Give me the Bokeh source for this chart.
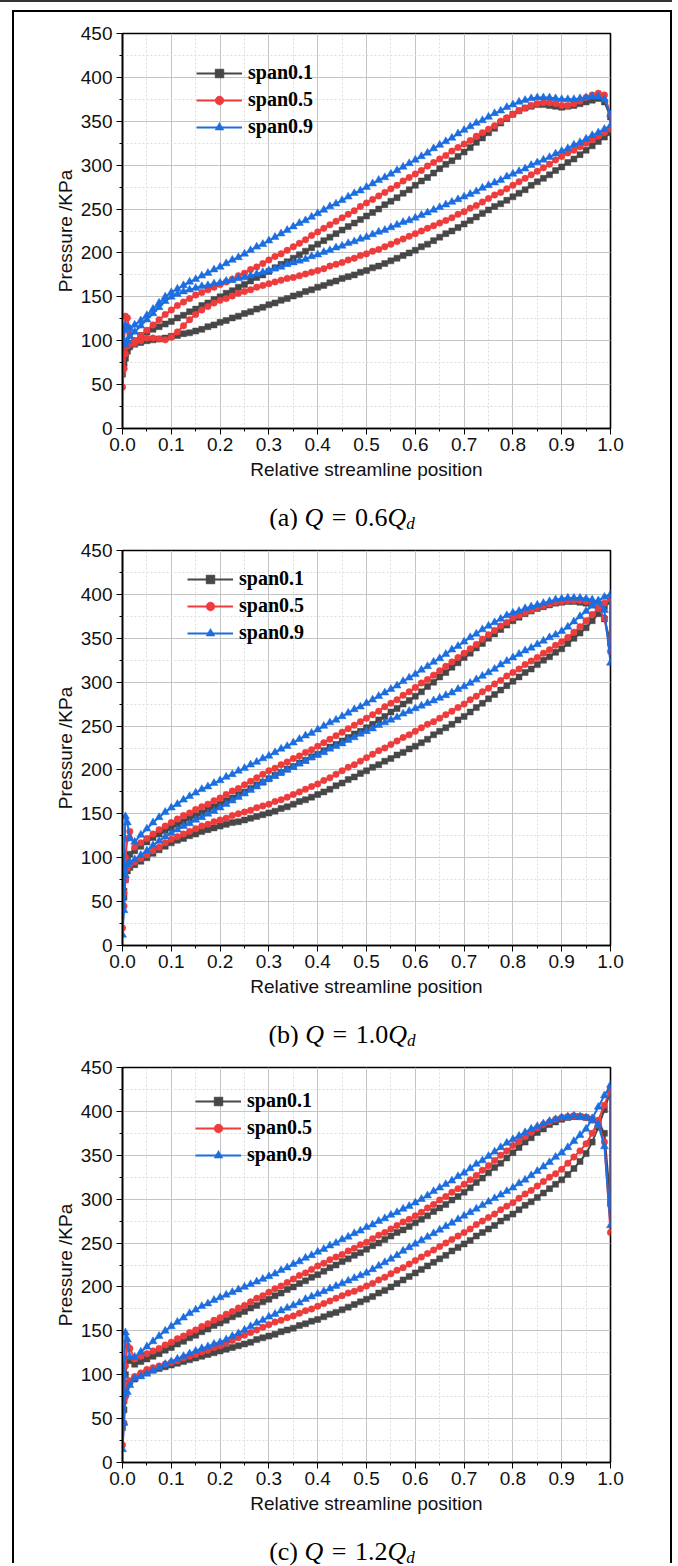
from bokeh.plotting import figure
from bokeh.models import (Range1d, SingleIntervalTicker, PrintfTickFormatter,
                          Legend, LegendItem, Div)
from bokeh.layouts import column
from bokeh.embed import file_html
from bokeh.resources import INLINE

# ---------------- data ----------------
SPANS = ["span0.1", "span0.5", "span0.9"]
X_LE = [0.003, 0.006, 0.01, 0.015]
X_MAIN = [0.025, 0.0375, 0.05, 0.0625, 0.075, 0.0875,
          0.1, 0.1125, 0.125, 0.1375, 0.15, 0.1625, 0.175, 0.1875,
          0.2, 0.2125, 0.225, 0.2375, 0.25, 0.2625, 0.275, 0.2875,
          0.3, 0.3125, 0.325, 0.3375, 0.35, 0.3625, 0.375, 0.3875,
          0.4, 0.4125, 0.425, 0.4375, 0.45, 0.4625, 0.475, 0.4875,
          0.5, 0.5125, 0.525, 0.5375, 0.55, 0.5625, 0.575, 0.5875,
          0.6, 0.6125, 0.625, 0.6375, 0.65, 0.6625, 0.675, 0.6875,
          0.7, 0.7125, 0.725, 0.7375, 0.75, 0.7625, 0.775, 0.7875,
          0.8, 0.8125, 0.825, 0.8375, 0.85, 0.8625, 0.875, 0.8875,
          0.9, 0.9125, 0.925, 0.9375, 0.95, 0.9625, 0.975, 0.9875,
          1.0]

# ----- (a) Q = 0.6Qd -----
A_STAG = [62, 47, 95]
A1_LE_PS = [75, 85, 92, 97]
A1_LE_SS = [70, 80, 88, 93]
A5_LE_PS = [95, 128, 126, 108]
A5_LE_SS = [68, 85, 94, 96]
A9_LE_PS = [112, 118, 115, 114]
A9_LE_SS = [100, 96, 100, 105]
A1_PS = [100, 106, 110, 113, 116, 119,
         122, 126, 129, 133, 136, 140, 143, 147,
         150, 154, 157, 161, 164, 168, 172, 175,
         179, 183, 187, 190, 194, 198, 202, 206,
         210, 214, 218, 222, 226, 230, 234, 238,
         242, 246, 250, 255, 259, 263, 268, 272,
         277, 282, 286, 291, 296, 301, 305, 310,
         315, 320, 326, 331, 337, 342, 348, 353,
         358, 362, 365, 367, 369, 369, 368, 367,
         366, 367, 368, 370, 372, 374, 376, 372,
         355]
A1_SS = [96, 98, 100, 101, 102, 103,
         105, 106, 108, 109, 111, 113, 116, 118,
         121, 123, 126, 128, 131, 133, 136, 138,
         141, 143, 146, 148, 151, 153, 156, 158,
         161, 163, 166, 168, 171, 173, 175, 178,
         180, 183, 185, 188, 191, 194, 197, 200,
         203, 207, 210, 214, 218, 222, 225, 229,
         233, 237, 241, 245, 249, 253, 256, 260,
         264, 268, 272, 277, 281, 285, 289, 294,
         298, 303, 307, 312, 317, 322, 327, 332,
         337]
A5_PS = [100, 106, 112, 118, 124, 130,
         135, 140, 144, 148, 152, 155, 158, 161,
         164, 167, 170, 174, 177, 181, 184, 188,
         192, 196, 199, 203, 207, 211, 215, 220,
         224, 228, 232, 236, 240, 244, 248, 253,
         257, 261, 265, 269, 273, 277, 282, 286,
         290, 294, 299, 303, 307, 311, 316, 320,
         324, 328, 333, 337, 341, 345, 350, 354,
         358, 362, 365, 368, 370, 371, 371, 370,
         368, 368, 370, 373, 377, 380, 382, 380,
         358]
A5_SS = [97, 100, 103, 103, 102, 101,
         104, 110, 117, 124, 130, 135, 139, 143,
         146, 148, 151, 154, 156, 158, 161, 163,
         165, 167, 169, 171, 172, 174, 176, 178,
         180, 182, 185, 187, 189, 192, 194, 197,
         199, 202, 204, 207, 210, 213, 216, 219,
         222, 225, 228, 231, 234, 237, 240, 244,
         247, 251, 254, 258, 262, 266, 269, 273,
         277, 281, 285, 289, 293, 297, 301, 306,
         310, 314, 317, 321, 325, 329, 333, 337,
         341]
A9_PS = [118, 123, 129, 136, 143, 150,
         155, 159, 163, 167, 170, 174, 177, 181,
         184, 188, 192, 195, 199, 203, 207, 210,
         214, 218, 222, 226, 230, 234, 237, 241,
         245, 249, 253, 256, 260, 264, 268, 271,
         275, 279, 283, 286, 290, 294, 298, 302,
         306, 310, 314, 319, 323, 327, 331, 336,
         340, 344, 348, 351, 355, 359, 362, 366,
         369, 372, 374, 376, 377, 377, 377, 376,
         375, 375, 375, 376, 377, 378, 378, 375,
         358]
A9_SS = [110, 117, 124, 131, 138, 145,
         150, 153, 156, 158, 160, 162, 163, 165,
         166, 168, 169, 171, 172, 174, 176, 178,
         180, 182, 184, 187, 189, 191, 193, 196,
         198, 201, 203, 206, 208, 211, 213, 216,
         218, 221, 224, 226, 229, 232, 235, 237,
         240, 243, 246, 249, 252, 255, 258, 261,
         264, 267, 270, 274, 277, 280, 283, 287,
         290, 293, 296, 300, 303, 306, 309, 313,
         316, 319, 323, 326, 330, 334, 337, 341,
         345]

# ----- (b) Q = 1.0Qd -----
B_STAG = [45, 20, 12]
B1_LE_PS = [62, 85, 98, 104]
B1_LE_SS = [55, 75, 85, 89]
B5_LE_PS = [60, 100, 122, 130]
B5_LE_SS = [45, 75, 88, 92]
B9_LE_PS = [90, 147, 140, 122]
B9_LE_SS = [40, 80, 92, 95]
B1_PS = [108, 113, 118, 123, 127, 131,
         134, 138, 141, 145, 148, 151, 155, 158,
         161, 165, 168, 172, 175, 179, 183, 186,
         190, 194, 197, 201, 204, 208, 211, 215,
         218, 222, 226, 229, 233, 237, 241, 244,
         248, 252, 257, 261, 266, 270, 275, 279,
         284, 289, 295, 300, 306, 311, 317, 322,
         328, 333, 339, 344, 350, 355, 360, 365,
         370, 374, 378, 381, 384, 386, 388, 390,
         391, 392, 392, 391, 390, 388, 384, 372,
         345]
B1_SS = [92, 96, 100, 105, 109, 113,
         117, 120, 122, 125, 127, 130, 132, 134,
         136, 138, 140, 141, 143, 145, 147, 149,
         151, 153, 156, 158, 161, 164, 166, 169,
         172, 175, 178, 182, 185, 189, 192, 196,
         199, 203, 206, 210, 213, 217, 220, 224,
         227, 231, 235, 240, 244, 248, 252, 257,
         261, 266, 271, 276, 281, 286, 291, 296,
         301, 306, 311, 315, 320, 325, 329, 334,
         338, 344, 350, 356, 362, 370, 378, 386,
         392]
B5_PS = [112, 117, 122, 127, 132, 136,
         140, 144, 148, 151, 155, 158, 161, 165,
         168, 172, 176, 179, 183, 187, 191, 195,
         199, 202, 206, 209, 213, 216, 220, 223,
         227, 231, 235, 239, 243, 247, 251, 255,
         259, 263, 267, 272, 276, 280, 285, 289,
         294, 299, 303, 308, 313, 318, 323, 328,
         333, 338, 343, 349, 354, 359, 364, 368,
         373, 376, 379, 382, 385, 387, 389, 391,
         392, 393, 393, 393, 392, 390, 385, 373,
         335]
B5_SS = [95, 99, 103, 108, 112, 117,
         121, 124, 127, 130, 133, 136, 138, 141,
         143, 145, 148, 150, 152, 154, 157, 159,
         161, 164, 166, 169, 172, 175, 178, 181,
         184, 188, 191, 195, 199, 203, 206, 210,
         214, 218, 222, 225, 229, 233, 237, 240,
         244, 248, 252, 255, 259, 263, 267, 271,
         275, 280, 284, 289, 293, 298, 302, 307,
         311, 315, 320, 324, 328, 333, 337, 342,
         346, 351, 357, 363, 370, 377, 384, 390,
         395]
B9_PS = [118, 126, 133, 140, 146, 152,
         157, 161, 166, 170, 174, 178, 181, 185,
         188, 192, 195, 199, 202, 206, 209, 213,
         216, 220, 224, 227, 231, 235, 239, 242,
         246, 250, 254, 257, 261, 265, 269, 272,
         276, 280, 284, 288, 292, 296, 301, 305,
         309, 314, 318, 323, 327, 332, 337, 341,
         346, 351, 355, 360, 364, 368, 372, 376,
         379, 381, 384, 386, 388, 390, 392, 394,
         395, 396, 396, 396, 395, 394, 391, 382,
         322]
B9_SS = [98, 103, 108, 114, 119, 124,
         128, 132, 136, 139, 143, 146, 150, 153,
         157, 161, 165, 169, 173, 177, 181, 186,
         190, 193, 197, 200, 203, 207, 210, 214,
         217, 220, 224, 227, 230, 234, 237, 241,
         244, 247, 251, 254, 257, 260, 264, 267,
         270, 273, 276, 279, 282, 285, 288, 292,
         295, 299, 303, 307, 311, 315, 320, 324,
         328, 332, 336, 339, 343, 347, 351, 354,
         358, 363, 369, 375, 381, 387, 393, 397,
         400]

# ----- (c) Q = 1.2Qd -----
C_STAG = [40, 20, 15]
C1_LE_PS = [70, 100, 118, 116]
C1_LE_SS = [60, 82, 90, 92]
C5_LE_PS = [70, 110, 133, 130]
C5_LE_SS = [45, 75, 88, 93]
C9_LE_PS = [100, 148, 140, 120]
C9_LE_SS = [45, 78, 80, 88]
C1_PS = [112, 115, 118, 121, 124, 128,
         131, 135, 138, 142, 145, 149, 152, 156,
         159, 162, 166, 169, 172, 176, 179, 183,
         186, 190, 193, 197, 200, 204, 207, 211,
         214, 218, 222, 225, 229, 232, 236, 239,
         243, 247, 250, 254, 258, 262, 265, 269,
         273, 277, 281, 286, 290, 294, 299, 303,
         308, 313, 319, 324, 330, 336, 341, 347,
         353, 359, 365, 370, 376, 380, 385, 388,
         391, 393, 394, 394, 393, 391, 388, 375,
         295]
C1_SS = [95, 99, 103, 105, 107, 109,
         111, 113, 115, 117, 119, 121, 123, 125,
         127, 129, 131, 133, 135, 137, 140, 142,
         144, 146, 149, 151, 153, 156, 158, 161,
         163, 166, 169, 171, 174, 177, 180, 183,
         186, 189, 193, 196, 200, 204, 208, 212,
         216, 220, 224, 228, 232, 236, 241, 245,
         249, 253, 258, 262, 266, 270, 275, 279,
         283, 288, 293, 297, 302, 307, 312, 317,
         322, 328, 335, 343, 352, 365, 382, 402,
         423]
C5_PS = [118, 121, 124, 127, 130, 134,
         137, 141, 144, 148, 151, 155, 158, 162,
         165, 169, 172, 176, 179, 183, 187, 190,
         194, 198, 201, 205, 209, 213, 216, 220,
         224, 227, 231, 234, 237, 241, 244, 248,
         251, 255, 259, 262, 266, 270, 274, 277,
         281, 285, 290, 294, 299, 303, 308, 312,
         317, 322, 327, 333, 338, 344, 350, 355,
         361, 366, 371, 376, 381, 385, 388, 391,
         393, 394, 395, 394, 393, 390, 385, 365,
         262]
C5_SS = [98, 102, 106, 108, 110, 112,
         114, 116, 119, 121, 123, 126, 128, 131,
         133, 136, 139, 142, 145, 148, 151, 154,
         157, 160, 162, 165, 167, 170, 173, 175,
         178, 181, 184, 187, 190, 193, 195, 198,
         201, 204, 208, 211, 215, 219, 222, 226,
         230, 234, 238, 242, 246, 250, 254, 258,
         262, 266, 271, 275, 279, 283, 288, 292,
         296, 301, 306, 310, 315, 320, 325, 329,
         334, 341, 348, 355, 363, 375, 390, 407,
         426]
C9_PS = [120, 126, 132, 138, 144, 150,
         155, 160, 165, 170, 174, 178, 181, 185,
         188, 191, 194, 197, 200, 203, 206, 209,
         212, 215, 219, 222, 226, 229, 233, 236,
         240, 243, 247, 250, 254, 257, 261, 264,
         268, 271, 275, 278, 282, 285, 289, 292,
         296, 300, 304, 309, 313, 317, 321, 326,
         330, 335, 340, 344, 349, 354, 359, 364,
         368, 372, 376, 380, 383, 386, 389, 391,
         393, 394, 395, 394, 393, 390, 385, 360,
         270]
C9_SS = [96, 98, 101, 105, 108, 112,
         115, 118, 121, 124, 127, 130, 132, 135,
         137, 140, 144, 147, 151, 155, 159, 162,
         166, 169, 173, 176, 179, 182, 186, 189,
         192, 195, 198, 201, 204, 207, 210, 213,
         216, 220, 224, 228, 232, 236, 241, 245,
         249, 253, 257, 261, 265, 269, 273, 277,
         281, 285, 289, 293, 297, 301, 305, 309,
         313, 318, 322, 327, 332, 337, 342, 348,
         353, 359, 366, 373, 380, 392, 405, 418,
         430]

X_TICK_INTERVAL = 0.1
Y_TICK_INTERVAL = 50

# ---------------- style ----------------
COLORS = ["#474747", "#ee3b3b", "#1c6ee0"]
MARKERS = ["square", "circle", "triangle"]
MSIZES = [6, 6.5, 8]
SANS = "'Liberation Sans', Arial, sans-serif"
SERIF = "'Liberation Serif', 'Times New Roman', serif"


def loop(stag, le_ps, le_ss, ps, ss):
    xs = X_MAIN[::-1] + X_LE[::-1] + [0.0] + X_LE + X_MAIN
    ys = ss[::-1] + le_ss[::-1] + [stag] + le_ps + ps
    return xs, ys


def make_panel(stags, le_ps_list, le_ss_list, ps_list, ss_list, leg_xy):
    p = figure(width=656, height=490, x_range=Range1d(0, 1), y_range=Range1d(0, 450),
               output_backend="svg", toolbar_location=None,
               min_border_left=108, min_border_right=60,
               min_border_top=21, min_border_bottom=74)
    p.background_fill_color = "white"
    p.border_fill_color = "white"
    p.outline_line_color = "black"
    p.outline_line_width = 1.6
    p.outline_line_alpha = 1

    xt = SingleIntervalTicker(interval=X_TICK_INTERVAL, num_minor_ticks=2)
    yt = SingleIntervalTicker(interval=Y_TICK_INTERVAL, num_minor_ticks=2)
    p.xaxis.ticker = xt
    p.yaxis.ticker = yt
    p.xgrid.ticker = xt
    p.ygrid.ticker = yt
    p.xaxis.formatter = PrintfTickFormatter(format="%.1f")

    for g in (p.xgrid, p.ygrid):
        g.grid_line_color = "#c4c4c4"
        g.grid_line_width = 1
        g.minor_grid_line_color = "#dedede"
        g.minor_grid_line_dash = "2 2"
        g.minor_grid_line_width = 1

    for ax in (p.xaxis, p.yaxis):
        ax.axis_line_color = "black"
        ax.axis_line_width = 1.6
        ax.major_tick_line_color = "black"
        ax.minor_tick_line_color = "black"
        ax.major_tick_out = 6
        ax.major_tick_in = 0
        ax.minor_tick_out = 3
        ax.minor_tick_in = 0
        ax.major_label_text_font = SANS
        ax.major_label_text_font_size = "19px"
        ax.major_label_text_color = "#111111"
        ax.axis_label_text_font = SANS
        ax.axis_label_text_font_size = "19px"
        ax.axis_label_text_font_style = "normal"
        ax.axis_label_text_color = "#111111"

    p.xaxis.axis_label = "Relative streamline position"
    p.yaxis.axis_label = "Pressure /KPa"
    p.xaxis.major_label_standoff = 3
    p.yaxis.major_label_standoff = 4
    p.xaxis.axis_label_standoff = 5
    p.yaxis.axis_label_standoff = 2

    items = []
    for i in range(3):
        xs, ys = loop(stags[i], le_ps_list[i], le_ss_list[i], ps_list[i], ss_list[i])
        lr = p.line(xs + [xs[0]], ys + [ys[0]], line_color=COLORS[i], line_width=2)
        sr = p.scatter(xs, ys, marker=MARKERS[i], size=MSIZES[i],
                       fill_color=COLORS[i], line_color=COLORS[i], line_width=0.5)
        items.append(LegendItem(label=SPANS[i], renderers=[lr, sr]))

    leg = Legend(items=items, location=leg_xy, orientation="vertical",
                 glyph_width=46, glyph_height=22, label_height=22,
                 label_standoff=6, spacing=4, padding=0, margin=0,
                 label_text_font=SERIF, label_text_font_style="bold",
                 label_text_font_size="20px", label_text_color="black",
                 border_line_alpha=0, background_fill_alpha=0)
    p.add_layout(leg)
    return p


def caption(letter, q):
    html = ('<span style="position:relative;top:2px">(' + letter + ') <i>Q</i> '
            '<span style="padding:0 2px">=</span> ' + q +
            '<i>Q</i><sub style="font-size:66%;line-height:0;vertical-align:-0.15em">'
            '<i>d</i></sub></span>')
    return Div(text=html, width=656, height=27, margin=0,
               styles={"text-align": "center", "font-family": SERIF,
                       "font-size": "26px", "line-height": "27px", "color": "black"})


fa = make_panel(A_STAG, [A1_LE_PS, A5_LE_PS, A9_LE_PS], [A1_LE_SS, A5_LE_SS, A9_LE_SS],
                [A1_PS, A5_PS, A9_PS], [A1_SS, A5_SS, A9_SS], (74, 290))
fb = make_panel(B_STAG, [B1_LE_PS, B5_LE_PS, B9_LE_PS], [B1_LE_SS, B5_LE_SS, B9_LE_SS],
                [B1_PS, B5_PS, B9_PS], [B1_SS, B5_SS, B9_SS], (65, 301))
fc = make_panel(C_STAG, [C1_LE_PS, C5_LE_PS, C9_LE_PS], [C1_LE_SS, C5_LE_SS, C9_LE_SS],
                [C1_PS, C5_PS, C9_PS], [C1_SS, C5_SS, C9_SS], (73, 296))

inner = column(fa, caption("a", "0.6"), fb, caption("b", "1.0"), fc, caption("c", "1.2"),
               margin=(0, 0, 0, 12),
               styles={"border-left": "2px solid #000", "border-right": "2px solid #000",
                       "border-top": "2px solid #000"})
root = column(inner, margin=0,
              styles={"border-top": "2px solid #333", "padding-top": "8px"})

open("out.html", "w").write(file_html(root, INLINE, "Pressure distribution"))
